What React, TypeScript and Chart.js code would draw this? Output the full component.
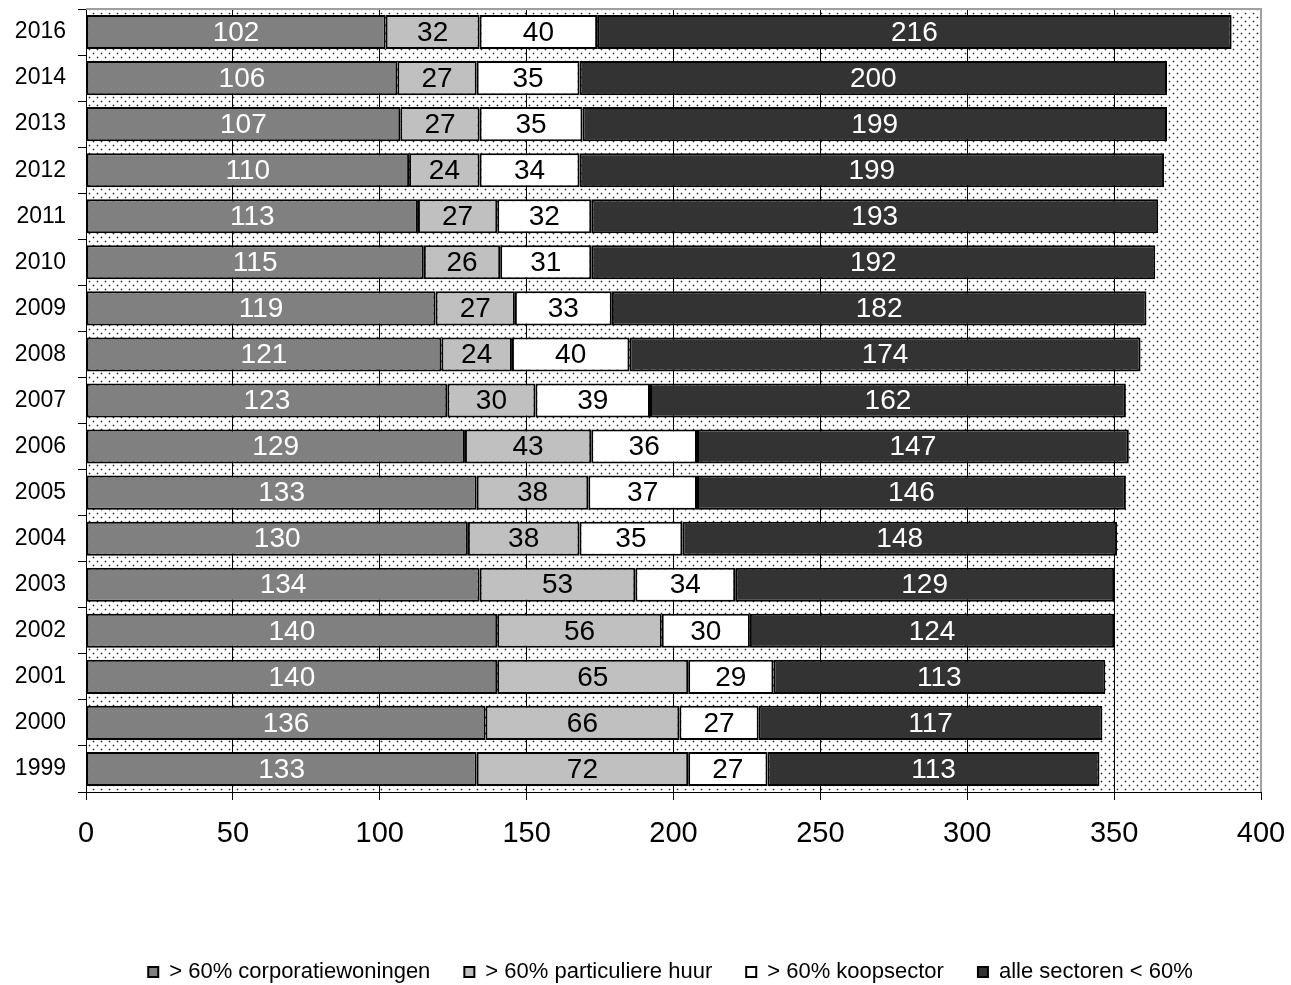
import React, { useEffect, useRef } from "react";
import { Chart, registerables } from "chart.js";

Chart.register(...registerables);

const years = ["2016", "2014", "2013", "2012", "2011", "2010", "2009", "2008", "2007", "2006", "2005", "2004", "2003", "2002", "2001", "2000", "1999"];
const corporatie = [102, 106, 107, 110, 113, 115, 119, 121, 123, 129, 133, 130, 134, 140, 140, 136, 133];
const particulier = [32, 27, 27, 24, 27, 26, 27, 24, 30, 43, 38, 38, 53, 56, 65, 66, 72];
const koop = [40, 35, 35, 34, 32, 31, 33, 40, 39, 36, 37, 35, 34, 30, 29, 27, 27];
const alleSectoren = [216, 200, 199, 199, 193, 192, 182, 174, 162, 147, 146, 148, 129, 124, 113, 117, 113];
const seriesNames = ["> 60% corporatiewoningen", "> 60% particuliere huur", "> 60% koopsector", "alle sectoren < 60%"];
const xTicks = [0, 50, 100, 150, 200, 250, 300, 350, 400];

const FONT = "Arial, 'Liberation Sans', sans-serif";

// Small white tile with two staggered dots, repeated over the plot area.
function makeDotPattern(ctx: CanvasRenderingContext2D) {
  const tile = document.createElement("canvas");
  tile.width = 8;
  tile.height = 8;
  const t = tile.getContext("2d")!;
  t.fillStyle = "#ffffff";
  t.fillRect(0, 0, 8, 8);
  const dot = (x: number, y: number) => {
    t.fillStyle = "#c0c0c0";
    t.fillRect(x - 1, y, 3, 1);
    t.fillRect(x, y - 1, 1, 3);
    t.fillStyle = "#2a2a2a";
    t.fillRect(x, y, 1, 1);
  };
  dot(1, 1);
  dot(5, 5);
  return ctx.createPattern(tile, "repeat");
}

const backgroundPlugin = {
  id: "dottedBackground",
  beforeDraw(chart: any) {
    const { ctx, chartArea } = chart;
    const pat = makeDotPattern(ctx);
    ctx.save();
    ctx.fillStyle = pat || "#fff";
    ctx.fillRect(chartArea.left, chartArea.top, chartArea.right - chartArea.left, chartArea.bottom - chartArea.top);
    ctx.restore();
  },
  afterDraw(chart: any) {
    const { ctx, chartArea } = chart;
    ctx.save();
    ctx.strokeStyle = "#a0a0a0";
    ctx.lineWidth = 2;
    ctx.beginPath();
    ctx.moveTo(chartArea.left, chartArea.top);
    ctx.lineTo(chartArea.right, chartArea.top);
    ctx.lineTo(chartArea.right, chartArea.bottom);
    ctx.stroke();
    ctx.restore();
  },
};

// Centre the legend row under the plot area rather than under the whole canvas.
const legendShiftPlugin = {
  id: "legendShift",
  afterLayout(chart: any) {
    const lg = chart.legend;
    if (!lg) return;
    lg.left += 40;
    lg.right += 40;
  },
};

const valueLabelPlugin = {
  id: "valueLabels",
  afterDatasetsDraw(chart: any) {
    const { ctx } = chart;
    ctx.save();
    ctx.font = `28px ${FONT}`;
    ctx.textAlign = "center";
    ctx.textBaseline = "middle";
    chart.data.datasets.forEach((ds: any, di: number) => {
      const meta = chart.getDatasetMeta(di);
      ctx.fillStyle = di === 0 || di === 3 ? "#ffffff" : "#000000";
      meta.data.forEach((bar: any, i: number) => {
        const v = ds.data[i];
        const cx = (bar.x + bar.base) / 2;
        ctx.fillText(String(v), cx, bar.y + 1);
      });
    });
    ctx.restore();
  },
};

export default function App() {
  const ref = useRef<HTMLCanvasElement>(null);

  useEffect(() => {
    if (!ref.current) return;
    const common = {
      borderColor: "#000000",
      borderWidth: 2,
      borderSkipped: false,
      barPercentage: 0.74,
      categoryPercentage: 1,
    };
    const chart = new Chart(ref.current, {
      type: "bar",
      data: {
        labels: years,
        datasets: [
          { label: seriesNames[0], data: corporatie, backgroundColor: "#808080", ...common },
          { label: seriesNames[1], data: particulier, backgroundColor: "#c0c0c0", ...common },
          { label: seriesNames[2], data: koop, backgroundColor: "#ffffff", ...common },
          { label: seriesNames[3], data: alleSectoren, backgroundColor: "#333333", ...common },
        ],
      },
      options: {
        indexAxis: "y",
        responsive: false,
        animation: false,
        layout: { padding: { left: 0, right: 30, top: 9, bottom: -8 } },
        scales: {
          x: {
            stacked: true,
            min: 0,
            max: 400,
            afterBuildTicks: (scale: any) => {
              scale.ticks = xTicks.map((v) => ({ value: v }));
            },
            afterFit: (scale: any) => {
              scale.height = 135;
              scale.paddingLeft = 0;
              scale.paddingRight = 0;
            },
            grid: {
              color: (c: any) => (c.tick && c.tick.value === 400 ? "#a0a0a0" : "#000000"),
              tickColor: "#000000",
              tickLength: 8,
              lineWidth: 1,
            },
            border: { display: true, color: "#000000", width: 1 },
            ticks: {
              color: "#000000",
              font: { family: FONT, size: 29 },
              padding: 17,
              maxRotation: 0,
            },
          },
          y: {
            stacked: true,
            afterFit: (scale: any) => {
              scale.width = 86;
              scale.paddingTop = 0;
              scale.paddingBottom = 0;
            },
            grid: {
              drawOnChartArea: false,
              tickColor: "#000000",
              tickLength: 8,
              offset: true,
            },
            border: { display: true, color: "#000000", width: 1 },
            ticks: {
              color: "#000000",
              font: { family: FONT, size: 23 },
              padding: 12,
            },
          },
        },
        plugins: {
          legend: {
            position: "bottom",
            labels: {
              color: "#000000",
              font: { family: FONT, size: 22 },
              boxWidth: 10,
              boxHeight: 10,
              padding: 34,
            },
          },
          tooltip: { enabled: false },
        },
      },
      plugins: [backgroundPlugin, legendShiftPlugin, valueLabelPlugin],
    } as any);
    return () => chart.destroy();
  }, []);

  return (
    <div style={{ position: "absolute", left: 0, top: 0, width: 1291, height: 985, background: "#fff" }}>
      <canvas ref={ref} width={1291} height={985} style={{ display: "block" }} />
    </div>
  );
}
